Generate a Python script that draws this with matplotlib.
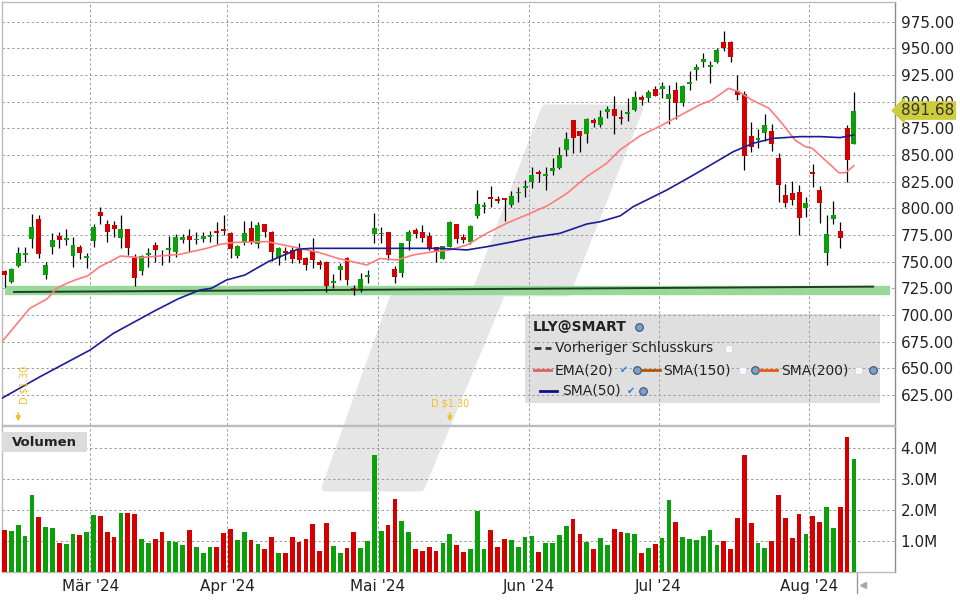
import matplotlib
matplotlib.use('Agg')
import matplotlib.pyplot as plt
import matplotlib.transforms as mtransforms
from matplotlib.patches import Polygon, Rectangle
import numpy as np
import pandas as pd

# trading days Feb 12 - Aug 9 2024 (US market holidays removed)
holidays = ['2024-02-19', '2024-03-29', '2024-05-27', '2024-06-19', '2024-07-04']
dates = pd.bdate_range('2024-02-12', '2024-08-09', freq='C', holidays=holidays)
month_labels = ["Mär '24", "Apr '24", "Mai '24", "Jun '24", "Jul '24", "Aug '24"]

opens = [741.3, 731.3, 745.9, 756.6, 771.6, 790.0, 737.5, 764.1, 774.1, 770.3,
         755.3, 763.4, 753.1, 769.7, 796.9, 785.3, 784.7, 772.5, 780.9, 753.1,
         741.6, 756.3, 765.6, 756.6, 760.9, 759.4, 770.6, 774.1, 770.0, 771.6,
         773.1, 778.8, 780.9, 777.2, 755.3, 767.8, 781.9, 766.3, 785.3, 778.1,
         753.1, 760.0, 761.0, 761.0, 753.1, 760.3, 749.7, 750.0, 730.3, 742.2,
         753.8, 725.6, 724.4, 736.0, 776.0, 775.6, 777.8, 743.1, 739.1, 769.7,
         779.7, 777.8, 773.8, 763.4, 752.8, 764.1, 785.3, 773.1, 768.1, 792.8,
         801.6, 810.6, 808.8, 809.4, 803.1, 814.1, 819.4, 825.0, 834.4, 830.6,
         835.3, 837.5, 854.7, 882.8, 872.5, 869.7, 882.8, 878.1, 890.6, 893.1,
         885.6, 888.8, 892.2, 904.7, 903.8, 911.9, 911.9, 902.2, 911.0, 899.1,
         916.9, 929.7, 937.2, 932.8, 937.5, 955.9, 955.9, 910.3, 907.2, 867.8,
         864.1, 871.0, 872.5, 847.2, 812.5, 814.7, 815.3, 800.6, 834.1, 817.2,
         758.4, 790.0, 778.8, 875.6, 860.3]
highs = [742.5, 744.5, 764.1, 764.1, 794.7, 793.8, 750.0, 776.6, 777.5, 780.3,
         773.1, 765.6, 757.8, 785.0, 801.6, 789.1, 788.1, 793.8, 781.0, 756.9,
         756.3, 762.5, 768.8, 761.0, 774.4, 775.6, 775.6, 780.6, 777.5, 778.1,
         778.8, 787.5, 793.8, 777.5, 765.6, 788.1, 788.1, 787.5, 785.5, 779.1,
         764.1, 764.1, 764.1, 767.8, 754.7, 772.5, 751.6, 750.5, 738.4, 748.4,
         754.5, 728.1, 739.1, 742.2, 795.9, 782.8, 778.0, 745.9, 767.5, 779.7,
         781.9, 784.4, 777.8, 763.5, 765.0, 788.4, 785.5, 775.6, 784.4, 817.2,
         806.3, 821.3, 811.6, 809.5, 816.3, 820.3, 826.6, 839.0, 835.9, 839.0,
         846.9, 857.8, 871.9, 883.0, 872.6, 885.0, 884.4, 892.2, 895.9, 905.3,
         892.2, 903.1, 910.0, 906.3, 910.9, 915.0, 918.1, 915.6, 918.1, 915.6,
         929.1, 935.3, 945.3, 938.1, 950.0, 966.3, 957.2, 925.0, 910.0, 881.0,
         874.7, 888.4, 879.0, 851.6, 822.8, 825.3, 821.9, 810.9, 841.6, 821.3,
         793.8, 806.9, 787.5, 878.1, 909.4]
lows = [726.6, 730.0, 745.0, 750.0, 763.1, 753.1, 733.4, 756.9, 762.5, 765.6,
        745.3, 752.2, 743.8, 764.1, 785.3, 768.8, 773.4, 762.5, 756.3, 727.5,
        737.5, 745.3, 750.0, 746.9, 750.0, 754.7, 767.2, 758.8, 766.6, 768.1,
        768.8, 766.6, 775.0, 753.8, 753.8, 765.6, 766.3, 762.5, 773.4, 750.9,
        746.9, 751.6, 748.4, 748.4, 742.2, 744.4, 743.1, 721.9, 725.6, 732.8,
        728.1, 718.8, 721.9, 729.7, 767.8, 767.8, 751.6, 730.3, 736.0, 760.9,
        771.9, 768.8, 761.0, 750.0, 752.8, 764.0, 767.2, 767.2, 766.6, 791.3,
        795.3, 801.6, 804.7, 788.4, 801.6, 806.3, 811.0, 818.8, 825.0, 817.2,
        831.3, 836.6, 849.0, 851.6, 853.1, 860.9, 875.9, 875.9, 884.4, 869.7,
        879.0, 882.2, 891.6, 896.9, 899.4, 905.0, 903.8, 878.8, 883.8, 896.0,
        910.9, 920.3, 932.8, 917.8, 936.0, 947.5, 937.5, 901.6, 835.9, 852.8,
        856.9, 863.4, 853.8, 806.3, 801.6, 803.1, 775.0, 792.2, 820.3, 786.6,
        746.9, 785.0, 762.5, 824.7, 860.0]
closes = [737.5, 743.1, 758.1, 758.0, 782.5, 756.9, 746.9, 770.3, 770.3, 772.5,
          765.6, 758.4, 755.0, 782.5, 793.1, 778.1, 780.9, 780.9, 763.1, 735.0,
          755.3, 758.4, 760.9, 755.0, 762.8, 773.4, 773.4, 770.6, 771.6, 774.1,
          775.3, 777.2, 779.1, 761.9, 765.0, 777.2, 768.4, 784.4, 778.1, 758.8,
          763.1, 758.4, 752.5, 751.6, 746.9, 751.6, 747.2, 727.5, 732.2, 746.3,
          732.8, 724.7, 733.8, 737.5, 781.3, 776.9, 756.3, 736.0, 767.2, 777.5,
          776.0, 772.5, 761.6, 758.8, 764.7, 787.5, 771.3, 770.3, 783.4, 804.1,
          803.1, 809.0, 807.2, 807.8, 811.6, 815.6, 821.3, 831.3, 832.2, 832.5,
          838.1, 850.0, 865.0, 866.3, 868.1, 883.8, 879.7, 885.3, 892.8, 886.6,
          883.8, 890.6, 904.7, 901.6, 909.4, 905.3, 914.7, 907.2, 899.1, 914.7,
          918.8, 932.5, 940.0, 934.7, 948.4, 950.6, 942.2, 906.6, 849.4, 857.5,
          866.0, 878.1, 860.6, 822.2, 805.3, 807.8, 791.3, 805.0, 832.2, 805.3,
          775.9, 793.8, 772.5, 845.3, 891.68]
volumes_m = [1.35, 1.32, 1.51, 1.16, 2.49, 1.77, 1.45, 1.41, 0.93, 0.90,
             1.22, 1.19, 1.29, 1.84, 1.81, 1.29, 1.12, 1.90, 1.90, 1.87,
             1.06, 0.93, 1.06, 1.29, 0.99, 0.96, 0.86, 1.35, 0.80, 0.61,
             0.80, 0.80, 1.25, 1.38, 1.03, 1.29, 1.03, 0.90, 0.74, 1.12,
             0.61, 0.61, 1.12, 0.96, 1.06, 1.55, 0.67, 1.58, 0.83, 0.61,
             0.77, 1.29, 0.77, 0.99, 3.78, 1.32, 1.51, 2.36, 1.64, 1.29,
             0.74, 0.67, 0.80, 0.67, 0.93, 1.22, 0.86, 0.64, 0.74, 1.97,
             0.74, 1.35, 0.80, 1.06, 1.03, 0.80, 1.12, 1.16, 0.64, 0.93,
             0.93, 1.19, 1.48, 1.71, 1.22, 0.96, 0.74, 1.09, 0.86, 1.38,
             1.29, 1.25, 1.22, 0.61, 0.77, 0.90, 1.09, 2.32, 1.61, 1.12,
             1.06, 1.03, 1.16, 1.35, 0.86, 0.99, 0.74, 1.74, 3.78, 1.58,
             0.93, 0.77, 0.99, 2.49, 1.74, 1.09, 1.87, 1.22, 1.81, 1.61,
             2.10, 1.42, 2.10, 4.37, 3.65]

# moving averages at candle positions
ema20_idx = [-0.36, 3.7, 6.2, 7.6, 9.1, 10.3, 12.2, 13.9, 15.4, 16.9, 18.1, 19.8,
             22.7, 25.6, 29.5, 31.5, 33.4, 38.3, 43.1, 45.8, 48.7, 52.9, 54.8,
             57.3, 59.7, 62.6, 65.0, 67.5, 70.4, 73.3, 76.2, 79.2, 82.1, 85.0,
             87.9, 89.9, 92.8, 95.7, 98.6, 101.5, 103.3, 105.7, 107.2, 109.1,
             111.6, 113.5, 115.4, 116.9, 117.9, 119.8, 121.8, 122.8, 124.0]
ema20_val = [675.0, 706.3, 715.0, 725.0, 729.7, 732.8, 736.9, 745.3, 750.0, 755.3,
             754.7, 753.8, 755.3, 756.9, 762.5, 766.3, 768.0, 768.8, 762.5, 758.8,
             753.0, 746.9, 753.0, 751.6, 756.3, 759.4, 761.0, 765.6, 776.6, 786.0,
             793.8, 802.2, 814.0, 829.7, 842.2, 855.0, 868.0, 877.0, 887.0, 897.0,
             901.6, 912.5, 909.4, 901.6, 893.8, 879.7, 864.0, 857.8, 856.3, 845.3,
             833.4, 833.4, 840.0]
sma50_idx = [-0.4, 5.2, 12.5, 15.9, 21.7, 25.3, 28.5, 30.2, 32.4, 35.1, 38.5,
             41.4, 42.8, 44.8, 51.6, 58.7, 63.6, 67.5, 70.4, 74.3, 77.2, 81.1,
             85.0, 87.0, 89.9, 91.8, 96.7, 100.6, 103.5, 106.4, 109.3, 112.2,
             116.1, 119.1, 122.0, 124.0]
sma50_val = [621.9, 642.2, 667.2, 682.8, 703.1, 715.0, 723.4, 725.0, 732.8, 737.5,
             750.0, 757.8, 761.6, 762.5, 762.5, 762.5, 762.5, 761.0, 764.0, 768.8,
             772.8, 776.6, 785.3, 787.5, 793.0, 801.6, 817.2, 831.3, 842.2, 853.1,
             861.0, 865.6, 867.2, 867.2, 866.3, 868.8]

price_ticks = [625, 650, 675, 700, 725, 750, 775, 800, 825, 850, 875, 900, 925, 950, 975]
vol_ticks = [1.0, 2.0, 3.0, 4.0]
support_band = (719.7, 727.3)
support_line = ([1.4, 126.8], [721.6, 726.6])
dividend_idx = [2, 65]
dividend_text = 'D $1.30'
last_price = 891.68

UP = '#0aa00a'
DOWN = '#d40000'
GRID = '#9c9c9c'

x = np.arange(len(dates))
o = np.array(opens); h = np.array(highs); l = np.array(lows); c = np.array(closes)
up = c >= o
colors = np.where(up, UP, DOWN)
month_pos = [i - 0.5 for i in range(1, len(dates)) if dates[i].month != dates[i - 1].month]

fig = plt.figure(figsize=(9.6, 6), dpi=100)
fig.patch.set_facecolor('white')
pix = mtransforms.Affine2D().scale(1 / 960, -1 / 600).translate(0, 1) + fig.transFigure

ax = fig.add_axes([2 / 960, 1 - 425 / 600, 893 / 960, 423 / 600])
axv = fig.add_axes([2 / 960, 1 - 572 / 600, 893 / 960, 146 / 600], sharex=ax)
for a in (ax, axv):
    a.set_facecolor('none')
    for s in a.spines.values():
        s.set_color('#bcbcbc')
        s.set_linewidth(1)
    a.spines['right'].set_color('#8c8c8c')

# background watermark
for pts in ([(545, 108), (640, 108), (567, 293), (475, 293)],
            [(393, 298), (500, 298), (421, 488), (325, 488)]):
    fig.add_artist(Polygon([(px / 960, 1 - py / 600) for px, py in pts], closed=True,
                           transform=fig.transFigure, fc='#e6e6e6', ec='#e6e6e6',
                           lw=5, joinstyle='round', zorder=-1))

# price panel
ax.set_xlim(-0.365, 130.0)
ax.set_ylim(596.9, 993.4)
for t in price_ticks:
    ax.axhline(t, color=GRID, lw=0.7, ls=(0, (2.5, 2.5)), zorder=1)
for m in month_pos:
    ax.axvline(m, color=GRID, lw=0.7, ls=(0, (2.5, 2.5)), zorder=1)

ax.axhspan(support_band[0], support_band[1], xmin=0.003, xmax=0.993, color='#98d898', zorder=1.5)
ax.plot(support_line[0], support_line[1], color='#1d421d', lw=1.4, zorder=2)

ax.vlines(x, l, h, color='black', lw=0.9, zorder=3)
ax.bar(x, np.maximum(np.abs(c - o), 0.9), width=0.72, bottom=np.minimum(o, c),
       color=colors, zorder=4)

ax.plot(ema20_idx, ema20_val, color='#ff7c7c', lw=1.2, zorder=5)
ax.plot(sma50_idx, sma50_val, color='#1c1c98', lw=1.2, zorder=5)

ax.yaxis.tick_right()
ax.set_yticks(price_ticks)
ax.set_yticklabels([f'{t:.2f}' for t in price_ticks])
ax.tick_params(axis='y', length=0, pad=4, labelsize=11, labelcolor='#222222')
ax.tick_params(axis='x', bottom=False, labelbottom=False)

# last price tag
tag_tr = mtransforms.blended_transform_factory(pix, ax.transData)
ax.text(901, last_price, f'{last_price:.2f}', transform=tag_tr, ha='left', va='center',
        fontsize=11, color='#333333', clip_on=False, zorder=10,
        bbox=dict(boxstyle='larrow,pad=0.12', fc='#cccc3c', ec='none'))

# dividends
div_tr = mtransforms.blended_transform_factory(ax.transData, pix)
for k, i in enumerate(dividend_idx):
    ax.annotate('', xy=(i, 424), xytext=(i, 410), xycoords=div_tr, textcoords=div_tr,
                arrowprops=dict(arrowstyle='-|>', color='#f2bf20', lw=1, mutation_scale=7),
                zorder=6)
    if k == 0:
        ax.text(i + 0.85, 385, dividend_text, transform=div_tr, rotation=90, ha='center',
                va='center', fontsize=7, color='#f2bf20', zorder=6)
    else:
        ax.text(i, 404, dividend_text, transform=div_tr, ha='center', va='center',
                fontsize=7, color='#f2bf20', zorder=6)

# legend box
ax.add_patch(Rectangle((525, 314), 355, 89, transform=pix, fc='#dcdcdc', ec='none',
                       alpha=0.9, zorder=0.5, clip_on=False))


def globe(px, py):
    ax.plot([px], [py], marker='o', ms=5.5, mfc='#7f9fc4', mec='#35527a', mew=0.8,
            transform=pix, clip_on=False, zorder=7)


def checkbox(px, py):
    ax.add_patch(Rectangle((px - 3.5, py - 3.5), 7, 7, transform=pix, fc='#f8f8ff',
                           ec='#d4d4e0', lw=0.6, clip_on=False, zorder=7))


def check(px, py):
    ax.text(px, py, '\u2714', transform=pix, fontsize=7, color='#2a80d8', ha='center',
            va='center', zorder=7)


def legline(x0, x1, py, col, ls='-'):
    ax.plot([x0, x1], [py, py], color=col, lw=2, ls=ls, transform=pix, clip_on=False,
            zorder=7)


def legtext(px, py, s, bold=False):
    ax.text(px, py, s, transform=pix, fontsize=10, ha='left', va='center',
            color='#222222', fontweight='bold' if bold else 'normal', zorder=7)


legtext(533, 327, 'LLY@SMART', bold=True)
globe(639, 327)
legline(534, 551, 348, '#333333', ls=(0, (2.5, 1.5)))
legtext(555, 348, 'Vorheriger Schlusskurs')
checkbox(728, 348)
legline(534, 551, 370, '#e26060')
legtext(555, 370, 'EMA(20)')
check(624, 370)
globe(637, 370)
legline(642, 660, 370, '#b35400')
legtext(663, 370, 'SMA(150)')
checkbox(742, 370)
globe(755, 370)
legline(760, 777, 370, '#e85a10')
legtext(781, 370, 'SMA(200)')
checkbox(858, 370)
globe(873, 370)
legline(540, 557, 391, '#10108c')
legtext(562, 391, 'SMA(50)')
check(631, 391)
globe(643, 391)

# volume panel
vols = np.array(volumes_m) * 1e6
axv.set_ylim(0, 4.72e6)
for t in vol_ticks:
    axv.axhline(t * 1e6, color=GRID, lw=0.7, ls=(0, (2.5, 2.5)), zorder=1)
for m in month_pos:
    axv.axvline(m, color=GRID, lw=0.7, ls=(0, (2.5, 2.5)), zorder=1)
axv.bar(x, vols, width=0.7, color=colors, zorder=3)
axv.yaxis.tick_right()
axv.set_yticks([t * 1e6 for t in vol_ticks])
axv.set_yticklabels([f'{t:.1f}M' for t in vol_ticks])
axv.tick_params(axis='y', length=0, pad=4, labelsize=11, labelcolor='#222222')
axv.set_xticks(month_pos)
axv.set_xticklabels(month_labels)
axv.tick_params(axis='x', length=0, pad=5, labelsize=11, labelcolor='#222222')

axv.add_patch(Rectangle((2, 432), 85, 20, transform=pix, fc='#dcdcdc', ec='none',
                        clip_on=False, zorder=6))
axv.text(12, 442, 'Volumen', transform=pix, fontsize=9.5, fontweight='bold',
         color='#222222', ha='left', va='center', zorder=7)

# end of data marker below the axis
end_tr = mtransforms.blended_transform_factory(axv.transData, pix)
axv.plot([x[-1] + 0.5] * 2, [573, 593], color='#9a9a9a', lw=1, transform=end_tr,
         clip_on=False)
axv.plot([x[-1] + 1.4], [585], marker='<', ms=4, color='#a8a8a8', transform=end_tr,
         clip_on=False)

fig.savefig('out.png', dpi=100)
